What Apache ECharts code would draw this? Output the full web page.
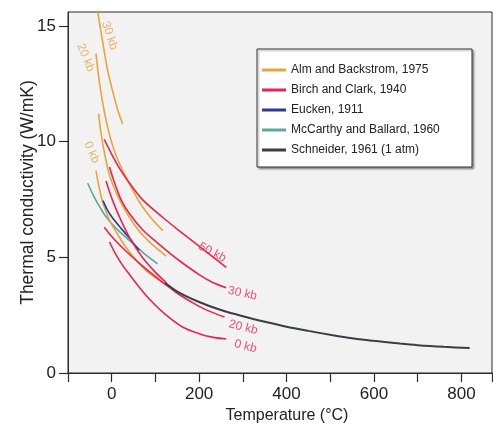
<!DOCTYPE html>
<html>
<head>
<meta charset="utf-8">
<script src="https://cdn.jsdelivr.net/npm/echarts@6/dist/echarts.min.js"></script>
<style>
  html, body { margin: 0; padding: 0; background: #fff; }
  #chart { width: 493px; height: 424px; }
</style>
</head>
<body>
<div id="chart"></div>
<script>
// Thermal conductivity versus temperature from several studies.
// Each curve: temperatures (°C) and conductivities (W/mK).

// Alm and Backstrom, 1975
const alm30T = [-32, -21, -9, 6, 15, 25];
const alm30K = [15.6, 14.35, 13.05, 11.9, 11.3, 10.75];
const alm20T = [-36, -28, -17, -5, 10, 33, 63, 90, 117];
const alm20K = [13.8, 12.55, 11.3, 10.3, 9.4, 8.45, 7.4, 6.7, 6.15];
const alm0T = [-30, -24, -16, -5, 10, 30, 60, 90, 125];
const alm0K = [11.2, 10.3, 9.45, 8.55, 7.8, 7.05, 6.2, 5.6, 5.05];
const almLowT = [-36, -28, -20, -5, 10, 30, 56, 80, 109, 125];
const almLowK = [8.75, 7.95, 7.35, 6.6, 6.1, 5.5, 4.87, 4.4, 4.0, 3.8];

// Birch and Clark, 1940
const birch50T = [-17, 0, 20, 41, 71, 117, 155, 193, 230, 262];
const birch50K = [10.1, 9.45, 8.78, 8.2, 7.48, 6.72, 6.14, 5.58, 5.04, 4.56];
const birch30T = [-5, 5, 21, 40, 70, 100, 125, 155, 200, 230, 262];
const birch30K = [8.9, 8.3, 7.5, 6.9, 6.2, 5.7, 5.3, 4.85, 4.25, 3.92, 3.68];
const birchAtmT = [-13, 2, 20, 41, 70, 100, 125];
const birchAtmK = [8.3, 7.46, 6.65, 5.85, 5.0, 4.35, 3.9];
const birch20T = [-17, 0, 20, 41, 63, 90, 125, 155, 200, 230, 258];
const birch20K = [6.3, 5.9, 5.5, 5.12, 4.75, 4.32, 3.8, 3.38, 2.88, 2.62, 2.42];
const birch0T = [-5, 10, 25, 41, 60, 86, 120, 162, 200, 230, 262];
const birch0K = [5.66, 5.1, 4.65, 4.25, 3.78, 3.2, 2.58, 1.99, 1.7, 1.55, 1.47];

// Eucken, 1911
const euckenT = [-20, -10, 0, 17, 35, 50, 63];
const euckenK = [7.45, 7.05, 6.75, 6.35, 5.95, 5.6, 5.3];

// McCarthy and Ballard, 1960
const mccarthyT = [-55, -40, -25, -13, 10, 30, 48, 75, 105];
const mccarthyK = [8.2, 7.6, 7.1, 6.75, 6.25, 5.9, 5.6, 5.15, 4.72];

// Schneider, 1961 (1 atm)
const schneiderT = [122, 150, 200, 250, 300, 353, 400, 450, 506, 550, 600, 659, 700, 760, 819];
const schneiderK = [3.9, 3.52, 3.07, 2.72, 2.45, 2.2, 2.0, 1.82, 1.63, 1.5, 1.39, 1.27, 1.2, 1.13, 1.08];

// Legend entries
const sourceNames = [
  'Alm and Backstrom, 1975',
  'Birch and Clark, 1940',
  'Eucken, 1911',
  'McCarthy and Ballard, 1960',
  'Schneider, 1961 (1 atm)'
];

// Pressure annotations: text and anchor (°C, W/mK)
const pressureText = ['30 kb', '20 kb', '0 kb', '50 kb', '30 kb', '20 kb', '0 kb'];
const pressureT = [-5, -60, -46, 230, 299, 301, 306];
const pressureK = [14.58, 13.63, 9.53, 5.21, 3.44, 1.97, 1.15];

const COLORS = {
  alm: '#e9a43b',
  birch: '#e8254f',
  eucken: '#2b3a8f',
  mccarthy: '#5ba99b',
  schneider: '#3a3c48'
};
const FONT = '"Liberation Sans", Arial, Helvetica, sans-serif';

const zip = (t, k) => t.map((v, i) => [v, k[i]]);

function curve(name, color, t, k, width) {
  return {
    name: name,
    type: 'line',
    data: zip(t, k),
    smooth: 0.3,
    symbol: 'none',
    clip: true,
    itemStyle: { color: color },
    lineStyle: { color: color, width: width || 1.6 },
    emphasis: { disabled: true },
    animation: false
  };
}

// label styling per annotation (orange ones run along the steep curves)
const labelStyle = [
  { color: COLORS.alm, rotate: -72 },
  { color: COLORS.alm, rotate: -68 },
  { color: COLORS.alm, rotate: -66 },
  { color: COLORS.birch, rotate: -28 },
  { color: COLORS.birch, rotate: -12 },
  { color: COLORS.birch, rotate: -14 },
  { color: COLORS.birch, rotate: -14 }
];

const annotationSeries = {
  type: 'scatter',
  symbolSize: 0,
  silent: true,
  animation: false,
  z: 5,
  data: pressureText.map((txt, i) => ({
    value: [pressureT[i], pressureK[i]],
    label: {
      show: true,
      position: 'inside',
      formatter: txt,
      rotate: labelStyle[i].rotate,
      color: labelStyle[i].color,
      fontSize: 12,
      fontFamily: FONT
    }
  }))
};

const chart = echarts.init(document.getElementById('chart'), null, { renderer: 'canvas' });

chart.setOption({
  animation: false,
  backgroundColor: '#ffffff',
  grid: {
    left: 68, top: 12, right: 1, bottom: 51,
    outerBoundsMode: 'none',
    containLabel: false,
    show: true,
    backgroundColor: '#f2f2f2',
    borderColor: '#2a2a2a',
    borderWidth: 1
  },
  xAxis: {
    type: 'value',
    min: -100,
    max: 870,
    interval: 100,
    name: 'Temperature (°C)',
    nameLocation: 'middle',
    nameGap: 35,
    nameMoveOverlap: false,
    nameTextStyle: { fontFamily: FONT, fontSize: 16, color: '#222', padding: [0, 0, 0, 14] },
    axisLine: { show: true, onZero: false, lineStyle: { color: '#2a2a2a', width: 1 } },
    axisTick: { show: true, inside: false, length: 9, lineStyle: { color: '#2a2a2a', width: 1.2 } },
    axisLabel: {
      fontFamily: FONT, fontSize: 17, color: '#222', margin: 13,
      formatter: v => (v >= 0 && v % 200 === 0) ? String(v) : ''
    },
    splitLine: { show: false }
  },
  yAxis: {
    type: 'value',
    min: 0,
    max: 15.6,
    interval: 5,
    name: 'Thermal conductivity (W/mK)',
    nameLocation: 'middle',
    nameGap: 31,
    nameMoveOverlap: false,
    nameTextStyle: { fontFamily: FONT, fontSize: 17.5, color: '#222' },
    axisLine: { show: true, onZero: false, lineStyle: { color: '#2a2a2a', width: 1 } },
    axisTick: { show: true, inside: false, length: 9, lineStyle: { color: '#2a2a2a', width: 1.2 } },
    axisLabel: { fontFamily: FONT, fontSize: 17, color: '#222', margin: 12, showMaxLabel: false },
    splitLine: { show: false }
  },
  legend: {
    data: sourceNames,
    orient: 'vertical',
    left: 262,
    top: 63,
    padding: 0,
    itemGap: 6,
    itemWidth: 24,
    itemHeight: 3,
    icon: 'rect',
    selectedMode: false,
    z: 20,
    textStyle: { fontFamily: FONT, fontSize: 12, lineHeight: 14, color: '#222' }
  },
  graphic: [{
    type: 'rect',
    z: 10,
    shape: { x: 257, y: 49, width: 215, height: 118 },
    style: {
      fill: '#ffffff',
      stroke: '#333333',
      lineWidth: 1,
      shadowBlur: 2,
      shadowOffsetX: 1.5,
      shadowOffsetY: 1.5,
      shadowColor: 'rgba(0,0,0,0.35)'
    }
  }],
  series: [
    curve(sourceNames[3], COLORS.mccarthy, mccarthyT, mccarthyK),
    curve(sourceNames[0], COLORS.alm, alm30T, alm30K),
    curve(sourceNames[0], COLORS.alm, alm20T, alm20K),
    curve(sourceNames[0], COLORS.alm, alm0T, alm0K),
    curve(sourceNames[0], COLORS.alm, almLowT, almLowK),
    curve(sourceNames[2], COLORS.eucken, euckenT, euckenK),
    curve(sourceNames[1], COLORS.birch, birch50T, birch50K),
    curve(sourceNames[1], COLORS.birch, birch30T, birch30K),
    curve(sourceNames[1], COLORS.birch, birchAtmT, birchAtmK),
    curve(sourceNames[1], COLORS.birch, birch20T, birch20K),
    curve(sourceNames[1], COLORS.birch, birch0T, birch0K),
    curve(sourceNames[4], COLORS.schneider, schneiderT, schneiderK, 2),
    annotationSeries
  ]
});
</script>
</body>
</html>
